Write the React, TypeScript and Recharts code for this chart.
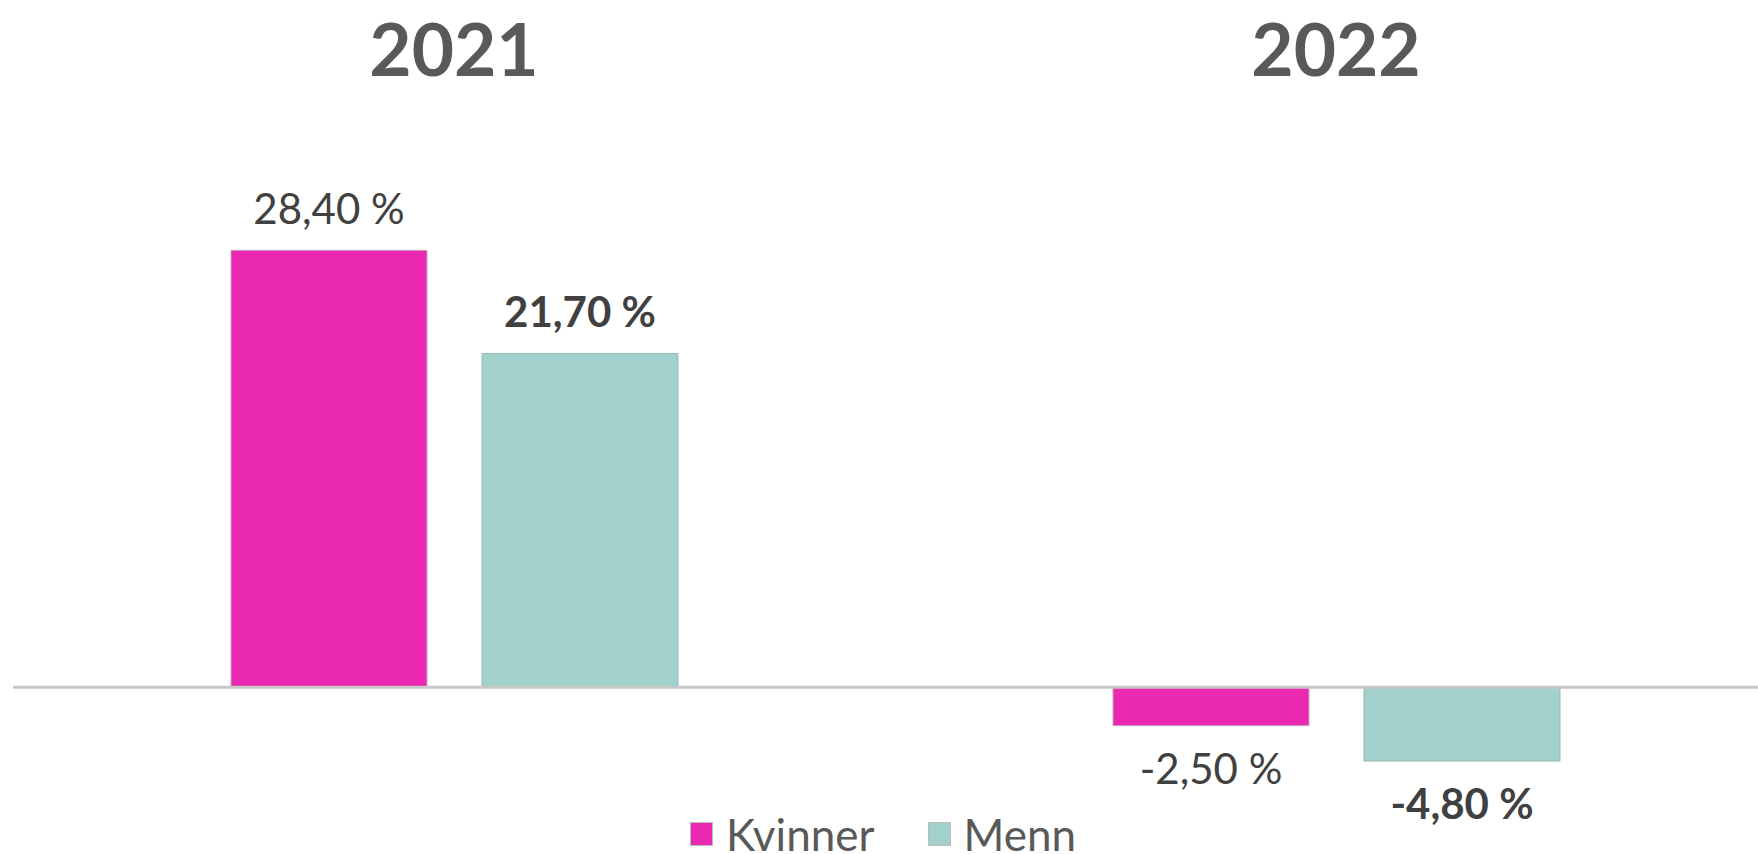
import React from 'react';
import { BarChart, Bar, XAxis, YAxis, ReferenceLine, LabelList } from 'recharts';

const years = ['2021', '2022'];
const kvinner = [28.4, -2.5];
const menn = [21.7, -4.8];

const seriesNames = ['Kvinner', 'Menn'];
const seriesColors = ['#EA28B1', '#A2D1CC'];

const data = years.map((year, i) => ({ year, Kvinner: kvinner[i], Menn: menn[i] }));

const FONT = 'Lato, "Open Sans", sans-serif';

const fmt = (v: number) => `${v.toFixed(2).replace('.', ',')} %`;

const makeLabel = (bold: boolean) => (props: any) => {
    const { x, y, width, height, value } = props;
    const top = Math.min(y, y + height);
    const bottom = Math.max(y, y + height);
    const cx = x + width / 2;
    const ty = value >= 0 ? top - 26 : bottom + 58;
    return (
        <text
            x={cx}
            y={ty}
            textAnchor="middle"
            fill="#404040"
            fontSize={42}
            fontFamily={FONT}
            fontWeight={bold ? 700 : 400}
        >
            {fmt(Number(value))}
        </text>
    );
};

const YearTick = (props: any) => (
    <text
        x={props.x}
        y={76}
        textAnchor="middle"
        fill="#595959"
        fontSize={73}
        fontWeight={700}
        fontFamily={FONT}
    >
        {props.payload.value}
    </text>
);

const App = () => (
    <div style={{ position: 'absolute', left: 0, top: 0, width: 1758, height: 854, overflow: 'hidden', background: '#fff' }}>
        <BarChart
            width={1777}
            height={854}
            data={data}
            margin={{ top: 0, right: 0, left: 13, bottom: 13 }}
            barSize={196}
            barGap={55}
        >
            <XAxis
                dataKey="year"
                orientation="top"
                height={195}
                axisLine={false}
                tickLine={false}
                tick={<YearTick />}
            />
            <YAxis hide domain={[-10, 32]} allowDataOverflow />
            <ReferenceLine y={0} stroke="#c8c8c8" strokeWidth={3} />
            <Bar dataKey="Kvinner" fill={seriesColors[0]} stroke="#c9a3bf" strokeWidth={1} isAnimationActive={false}>
                <LabelList dataKey="Kvinner" content={makeLabel(false)} />
            </Bar>
            <Bar dataKey="Menn" fill={seriesColors[1]} stroke="#9bb5b2" strokeWidth={1} isAnimationActive={false}>
                <LabelList dataKey="Menn" content={makeLabel(true)} />
            </Bar>
        </BarChart>
        <div
            style={{
                position: 'absolute',
                left: 0,
                top: 814,
                width: 1766,
                display: 'flex',
                justifyContent: 'center',
                alignItems: 'center',
                fontFamily: FONT,
                fontSize: 44,
                lineHeight: '40px',
                color: '#595959',
            }}
        >
            {seriesNames.map((name, i) => (
                <div key={name} style={{ display: 'flex', alignItems: 'center', marginRight: i === 0 ? 53 : 0 }}>
                    <span
                        style={{
                            display: 'inline-block',
                            width: 23,
                            height: 24,
                            background: seriesColors[i],
                            border: '1px solid #bbb',
                            boxSizing: 'border-box',
                            marginRight: 13,
                        }}
                    />
                    <span>{name}</span>
                </div>
            ))}
        </div>
    </div>
);

export default App;
